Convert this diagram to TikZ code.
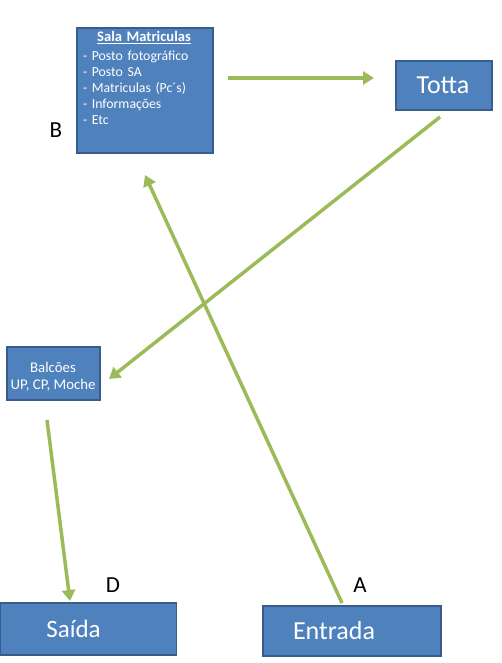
\documentclass[tikz,border=0pt]{standalone}
\usepackage{fontspec}
\setmainfont{Carlito}
\usetikzlibrary{arrows.meta}
\definecolor{boxfill}{HTML}{4F81BD}
\definecolor{boxline}{HTML}{385D8A}
\definecolor{arr}{HTML}{9BBB59}
\tikzset{
  blue box/.style={draw=boxline, line width=1.6pt, fill=boxfill, rectangle, inner sep=0pt},
  boxtext/.style={text=white, inner sep=0pt},
  flow/.style={draw=arr, line width=3.5pt, -{Triangle[length=11pt,width=13pt]}},
  letter/.style={font=\fontsize{23}{24}\selectfont, inner sep=0pt}
}
\begin{document}
\begin{tikzpicture}[x=1pt,y=-1pt]
\useasboundingbox (0,0) rectangle (501,663);
% boxes
\node[blue box, minimum width=136pt, minimum height=125pt] (sala) at (145,90.5) {};
\node[boxtext, anchor=north, font=\fontsize{13.8}{16}\selectfont, text width=128pt, align=left] (salatxt) at (147,31)
 {\makebox[128pt][c]{\fontsize{14.6}{16}\selectfont\bfseries\underline{Sala Matriculas}\hspace{6pt}}\\[3pt]
  - Posto fotográfico\\
  - Posto SA\\
  - Matriculas (Pc´s)\\
  - Informações\\
  - Etc};
\node[blue box, minimum width=96pt, minimum height=49pt, boxtext, font=\fontsize{26}{28}\selectfont] (totta) at (444,85.5) {\hspace*{-2pt}Totta};
\node[blue box, minimum width=93pt, minimum height=53pt] (balc) at (53.5,373.5) {};
\node[boxtext, font=\fontsize{14.8}{17}\selectfont, align=center] (balctxt) at (53,377) {Balcões\\UP, CP, Moche};
\node[blue box, minimum width=176pt, minimum height=52pt, boxtext, font=\fontsize{25}{27}\selectfont] (saida) at (88.5,629) {\hspace*{-30pt}Saída};
\node[blue box, minimum width=178pt, minimum height=50pt, boxtext, font=\fontsize{26}{28}\selectfont] (entrada) at (352,631) {\hspace*{-36pt}Entrada};
% letters
\node[letter] (B) at (56,130) {B};
\node[letter] (D) at (113,585) {D};
\node[letter] (A) at (360,585) {A};
% connector ends
\coordinate (s1) at (228,78);
\coordinate (e1) at (374,78);
\coordinate (s2) at (440,117);
\coordinate (e2) at (109,379);
\coordinate (s3) at (47,420);
\coordinate (e3) at (70,601);
\coordinate (s4) at (342,603);
\coordinate (e4) at (145,175);
\draw[flow] (s1) -- (e1);
\draw[flow] (s2) -- (e2);
\draw[flow] (s3) -- (e3);
\draw[flow] (s4) -- (e4);
\end{tikzpicture}
\end{document}
